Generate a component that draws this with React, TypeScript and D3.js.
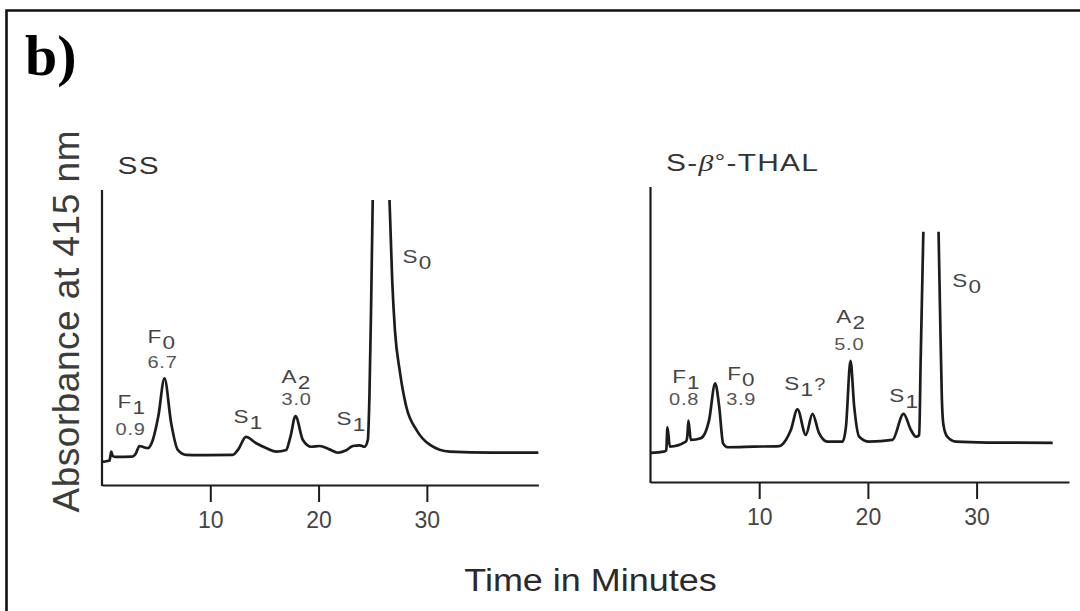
import { useEffect, useRef } from 'react'
import * as d3 from 'd3'

const WIDTH = 1080
const HEIGHT = 611
const SANS = '"Liberation Sans", Arial, Helvetica, sans-serif'
const INK = '#1c1c1c'

// SS chromatogram: time (min) vs absorbance (arbitrary units). null = off-scale gap at S0
const ssTime = [0, 0.5, 0.7, 0.85, 1.0, 1.3, 2.8, 3.1, 3.46, 3.8, 4.23, 4.7, 5.2, 5.77, 6.39, 7.0, 7.78, 9, 12.08, 12.6, 13.3, 14.24, 15.2, 16.1, 17.0, 17.4, 17.87, 18.55, 19.33, 20.1, 21.0, 21.78, 22.5, 23.17, 23.8, 24.25, 24.55, 24.7, 24.85, 25.0, 25.8, 26.55, 26.8, 27.05, 27.5, 28.1, 29.05, 30.3, 32.1, 36, 40.3]
const ssAbs = [6.9, 7.2, 7.4, 10.4, 8.9, 8.6, 8.7, 9.6, 12.35, 12.0, 11.6, 14.5, 22.5, 35.5, 20.1, 11.0, 9.3, 9.2, 9.3, 11.3, 15.5, 13.3, 11.6, 10.4, 11.0, 15.5, 22.6, 14.4, 12.1, 12.35, 11.2, 10.05, 10.8, 12.35, 12.6, 12.1, 14.5, 30, 60, 96.6, null, 96.6, 69, 52, 38, 25.8, 17.8, 12.7, 10.4, 10.1, 10.1]

// S-beta0-THAL chromatogram
const sbTime = [0, 1.25, 1.45, 1.56, 1.78, 3.25, 3.38, 3.49, 3.71, 4.63, 5.39, 5.95, 6.32, 6.68, 7.08, 9.5, 11.84, 12.45, 12.91, 13.52, 14.29, 14.9, 15.51, 16.28, 17.66, 17.98, 18.4, 18.74, 19.2, 20.12, 22.26, 23.28, 23.96, 24.42, 24.72, 24.85, 25.1, 25.8, 26.5, 26.65, 26.8, 26.95, 27.3, 28.1, 31, 37]
const sbAbs = [9.0, 9.4, 9.8, 17.7, 11.1, 12.8, 14.5, 20.0, 13.4, 14.0, 20.2, 32.8, 24.8, 12.2, 10.9, 11.1, 11.3, 13.4, 16.8, 23.9, 15.1, 22.3, 15.7, 12.8, 12.8, 17.9, 40.5, 24.8, 14.5, 12.8, 13.4, 22.3, 16.8, 14.5, 15.1, 40, 84.7, null, 84.7, 55, 28, 18.5, 14.5, 12.8, 12.5, 12.4]

const xTicks = [10, 20, 30]

// peak annotations, anchored in (time, absorbance)
const ssPeaks = [
  { name: 'F', sub: '1', t: 1.43, v: 25.4, amount: '0.9', at: 1.25, av: 16.1 },
  { name: 'F', sub: '0', t: 4.2, v: 47.6, amount: '6.7', at: 4.2, av: 39.05 },
  { name: 'S', sub: '1', t: 12.15, v: 20.2 },
  { name: 'A', sub: '2', t: 16.58, v: 33.9, amount: '3.0', at: 16.58, av: 26.4 },
  { name: 'S', sub: '1', t: 21.66, v: 19.5 },
  { name: 'S', sub: '0', t: 27.76, v: 75.0 },
]
const sbPeaks = [
  { name: 'F', sub: '1', t: 1.99, v: 32.9, amount: '0.8', at: 1.71, av: 25.4 },
  { name: 'F', sub: '0', t: 7.05, v: 33.9, amount: '3.9', at: 6.96, av: 25.4 },
  { name: 'S', sub: '1', extra: '?', t: 12.3, v: 30.5 },
  { name: 'A', sub: '2', t: 17.08, v: 53.4, amount: '5.0', at: 16.9, av: 44.2 },
  { name: 'S', sub: '1', t: 21.96, v: 26.4 },
  { name: 'S', sub: '0', t: 27.75, v: 65.8 },
]

const panels = [
  { time: ssTime, abs: ssAbs, peaks: ssPeaks, title: 'SS', xMax: 40.3, xRange: [102, 538.4], yRange: [485, 190] },
  { time: sbTime, abs: sbAbs, peaks: sbPeaks, title: 'SBT', xMax: 38.5, xRange: [650.5, 1069], yRange: [482, 187] },
]

function stretched(g: any, x: number, y: number, sx: number, size: number, fill: string) {
  return g.append('text')
    .attr('transform', `translate(${x},${y}) scale(${sx},1)`)
    .attr('font-family', SANS)
    .attr('font-size', size)
    .attr('fill', fill)
}

function drawPanel(svg: any, p: any) {
  const x = d3.scaleLinear().domain([0, p.xMax]).range(p.xRange)
  const y = d3.scaleLinear().domain([-1, 100]).range(p.yRange)
  const g = svg.append('g')
  const base = y(-1)

  // x axis
  g.append('g')
    .attr('transform', `translate(0,${base})`)
    .call(d3.axisBottom(x).tickValues(xTicks).tickSize(17).tickSizeOuter(0).tickPadding(10))
    .call((a: any) => a.select('.domain').attr('stroke', INK).attr('stroke-width', 2.2))
    .call((a: any) => a.selectAll('.tick line').attr('stroke', INK).attr('stroke-width', 2))
    .call((a: any) => a.selectAll('.tick text')
      .attr('font-family', SANS).attr('font-size', 23).attr('fill', '#444'))

  // y axis (no ticks)
  g.append('line')
    .attr('x1', x(0)).attr('x2', x(0))
    .attr('y1', base + 1).attr('y2', y(100))
    .attr('stroke', INK).attr('stroke-width', 2.2)

  // trace
  const pts = p.time.map((t: number, i: number) => [t, p.abs[i]])
  const line = d3.line<any>()
    .defined((d) => d[1] != null)
    .x((d) => x(d[0]))
    .y((d) => y(d[1]))
    .curve(d3.curveMonotoneX)
  g.append('path')
    .datum(pts)
    .attr('d', line)
    .attr('fill', 'none')
    .attr('stroke', INK)
    .attr('stroke-width', 2.7)
    .attr('stroke-linejoin', 'round')

  // panel title
  const tx = x(1.43)
  const ty = y(105.5)
  const title = stretched(g, tx, ty, 1.3, 23, '#333').attr('letter-spacing', 1)
  if (p.title === 'SS') {
    title.text('SS')
  } else {
    title.append('tspan').text('S-')
    title.append('tspan').attr('font-family', '"Liberation Serif", serif').attr('font-style', 'italic').text('β')
    title.append('tspan').attr('font-size', 20).attr('dy', -2).text('°')
    title.append('tspan').attr('dy', 2).text('-THAL')
  }

  // peak labels
  p.peaks.forEach((pk: any) => {
    const t = stretched(g, x(pk.t), y(pk.v), 1.25, 18, '#444')
    t.append('tspan').text(pk.name)
    t.append('tspan').attr('dx', 1).attr('dy', 6).text(pk.sub)
    if (pk.extra) t.append('tspan').attr('dx', 1).attr('dy', -6).attr('font-size', 16).text(pk.extra)
    if (pk.amount) {
      stretched(g, x(pk.at), y(pk.av), 1.25, 16, '#555')
        .attr('letter-spacing', 0.6)
        .text(pk.amount)
    }
  })
}

export default function App() {
  const svgRef = useRef<SVGSVGElement>(null)

  useEffect(() => {
    if (!svgRef.current) return
    const svg = d3.select(svgRef.current)
    svg.selectAll('*').remove()

    svg.append('rect').attr('width', WIDTH).attr('height', HEIGHT).attr('fill', '#fff')

    // frame (top and left edges visible)
    svg.append('path')
      .attr('d', `M6.5,${HEIGHT} V10.5 H${WIDTH}`)
      .attr('fill', 'none')
      .attr('stroke', '#111')
      .attr('stroke-width', 2.6)

    svg.append('text')
      .attr('x', 25)
      .attr('y', 75)
      .attr('font-family', '"Liberation Serif", "Times New Roman", serif')
      .attr('font-weight', 'bold')
      .attr('font-size', 58)
      .attr('fill', '#000')
      .text('b)')

    panels.forEach((p) => drawPanel(svg, p))

    // axis titles
    svg.append('text')
      .attr('transform', 'translate(79,321.5) rotate(-90)')
      .attr('text-anchor', 'middle')
      .attr('font-family', SANS)
      .attr('font-size', 37)
      .attr('textLength', 382)
      .attr('lengthAdjust', 'spacing')
      .attr('fill', '#3c3c3c')
      .text('Absorbance at 415 nm')

    stretched(svg, 590.5, 591, 1.16, 31, '#2a2a2a')
      .attr('text-anchor', 'middle')
      .text('Time in Minutes')
  }, [])

  return (
    <svg
      ref={svgRef}
      width={WIDTH}
      height={HEIGHT}
      style={{ position: 'absolute', left: 0, top: 0, display: 'block' }}
    />
  )
}
